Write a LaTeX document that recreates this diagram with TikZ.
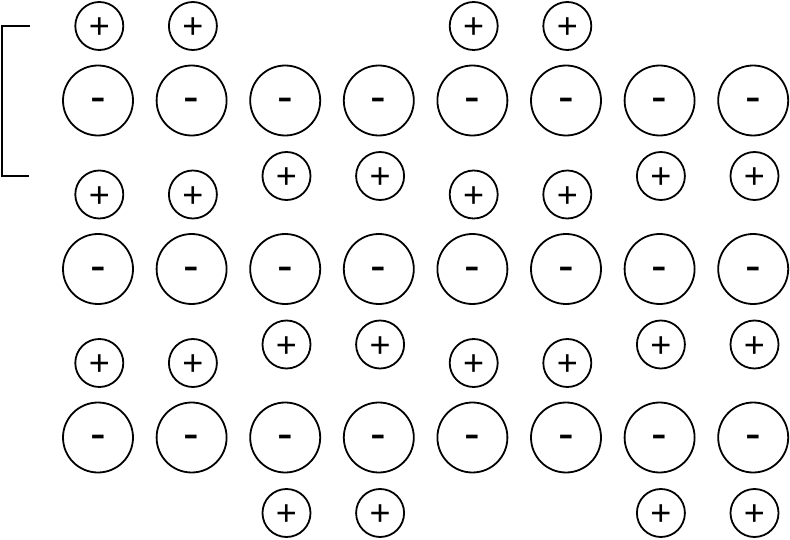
\documentclass[tikz,border=0pt]{standalone}
\usepackage{fontspec}
\setmainfont{Liberation Sans}
\begin{document}
\begin{tikzpicture}[x=1pt,y=-1pt,
  anion/.style={circle,draw,line width=1.8pt,minimum size=70pt,inner sep=0pt,
    font=\fontsize{47}{47}\selectfont},
  cation/.style={circle,draw,line width=1.8pt,minimum size=48pt,inner sep=0pt,
    font=\fontsize{36}{36}\selectfont},
  bracketline/.style={line width=2pt}]
\useasboundingbox (0,0) rectangle (790,540);
\foreach \i in {0,...,7}{
  \foreach \j in {0,1,2}{
    \node[anion] (a\i\j) at ({98+93.6*\i},{100.5+168.5*\j}) {\smash{\raisebox{-0.259em}{-}}};
  }
}
\foreach \i in {0,1,4,5}{
  \foreach \j in {0,1,2}{
    \node[cation] (p\i\j) at ({99.3+93.6*\i},{26+168.5*\j}) {\smash{\raisebox{-0.352em}{+}}};
  }
}
\foreach \i in {2,3,6,7}{
  \foreach \j in {0,1,2}{
    \node[cation] (q\i\j) at ({99.3+93.6*\i},{176+168.5*\j}) {\smash{\raisebox{-0.352em}{+}}};
  }
}
\coordinate (b1) at (30,26);
\coordinate (b2) at (1.5,26);
\coordinate (b3) at (1.5,176);
\coordinate (b4) at (29,176);
\draw[bracketline] (b1) -- (b2) -- (b3) -- (b4);
\end{tikzpicture}
\end{document}
